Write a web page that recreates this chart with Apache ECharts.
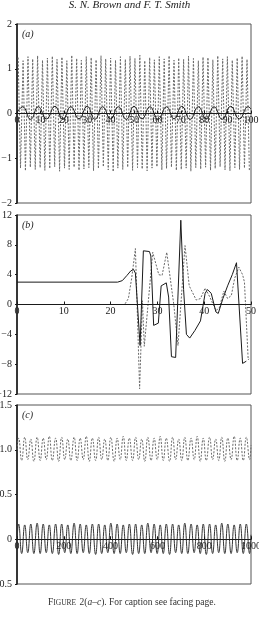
<!DOCTYPE html>
<html>
<head>
<meta charset="utf-8">
<script src="https://cdn.jsdelivr.net/npm/echarts@6/dist/echarts.min.js"></script>
<style>
  html, body { margin: 0; padding: 0; background: #fff; }
  #main { width: 259px; height: 625px; }
</style>
</head>
<body>
<div id="main"></div>
<script>
// ---- panel (a) ----
var aDotX = [0.5,1.5,2.6,3.6,4.7,5.7,6.7,7.8,8.8,9.9,
  10.9,11.9,13.0,14.0,15.1,16.1,17.1,18.2,19.2,20.3,
  21.3,22.3,23.4,24.4,25.5,26.5,27.5,28.6,29.6,30.7,
  31.7,32.7,33.8,34.8,35.9,36.9,37.9,39.0,40.0,41.1,
  42.1,43.1,44.2,45.2,46.3,47.3,48.3,49.4,50.4,51.5,
  52.5,53.5,54.6,55.6,56.7,57.7,58.7,59.8,60.8,61.9,
  62.9,63.9,65.0,66.0,67.1,68.1,69.1,70.2,71.2,72.3,
  73.3,74.3,75.4,76.4,77.5,78.5,79.5,80.6,81.6,82.7,
  83.7,84.7,85.8,86.8,87.9,88.9,89.9,91.0,92.0,93.1,
  94.1,95.1,96.2,97.2,98.3,99.3];
var aDotY = [1.25,-1.22,1.18,-1.28,1.27,-1.20,1.22,-1.25,1.29,-1.21,
  1.19,-1.27,1.24,-1.23,1.28,-1.19,1.21,-1.29,1.26,-1.22,
  1.18,-1.25,1.30,-1.20,1.23,-1.27,1.19,-1.24,1.27,-1.21,
  1.25,-1.28,1.20,-1.23,1.29,-1.19,1.22,-1.26,1.24,-1.30,
  1.19,-1.22,1.27,-1.25,1.21,-1.20,1.28,-1.27,1.23,-1.21,
  1.30,-1.24,1.18,-1.28,1.25,-1.22,1.20,-1.19,1.27,-1.26,
  1.22,-1.23,1.29,-1.20,1.19,-1.27,1.24,-1.25,1.21,-1.22,
  1.28,-1.29,1.23,-1.21,1.18,-1.24,1.26,-1.20,1.25,-1.27,
  1.20,-1.23,1.29,-1.19,1.22,-1.26,1.27,-1.28,1.19,-1.21,
  1.24,-1.25,1.28,-1.22,1.21,-1.27];
var aSolidX = [0,2.4,5.8,9.1,12.6,16.2,19.6,23.0,26.5,30.0,33.3,36.6,40.0,43.3,46.7,50.0,
  53.4,56.8,60.3,63.9,67.1,70.4,74.0,77.5,80.9,84.2,87.7,91.3,95.0,98.8,100];
var aSolidY = [0.02,0.15,-0.13,0.15,-0.12,0.16,-0.13,0.15,-0.12,0.16,-0.13,0.15,-0.12,0.15,-0.13,0.16,
  -0.12,0.15,-0.13,0.15,-0.12,0.16,-0.13,0.15,-0.12,0.15,-0.13,0.16,-0.12,0.15,0.10];

// ---- panel (b) ----
var bSolidX = [0,21.5,22.5,23.5,24.3,24.9,25.3,26.3,27.0,28.3,28.6,29.2,30.2,30.8,31.9,32.4,33.0,33.9,
  35.0,35.6,36.2,36.9,38.0,39.2,40.2,40.7,41.5,42.5,43.0,44.0,45.0,46.0,46.9,48.2,49.0];
var bSolidY = [3.0,3.0,3.2,3.9,4.5,4.7,4.2,-5.5,7.2,7.1,6.5,-2.8,-2.5,2.5,2.9,1.0,-7.0,-7.1,
  11.3,2.0,-4.0,-4.5,-3.5,-2.2,1.5,2.0,1.5,-1.0,-1.2,0.8,2.5,4.0,5.6,-7.9,-7.6];
var bDashX = [0,23.0,23.8,24.5,25.3,26.2,26.8,27.2,29.0,30.3,31.0,32.0,33.5,34.4,35.9,36.8,38.3,39.2,
  40.2,41.2,42.5,43.2,44.2,45.0,45.8,46.5,47.4,48.2,48.6,49.4,49.6];
var bDashY = [0,0,0.8,3.5,7.5,-11.3,0.5,-5.6,7.0,4.0,3.9,7.0,0.0,-5.5,7.9,2.5,0.6,0.8,
  2.2,1.0,-0.8,-0.5,1.8,0.8,1.2,3.5,5.0,4.0,3.0,-7.4,-7.3];

// ---- panel (c) ----
var cX = [0,7,20,33,46,59,72,86,99,112,125,138,151,165,178,191,204,217,230,244,257,270,283,296,309,322,
  336,349,362,375,388,401,415,428,441,454,467,480,494,507,520,533,546,559,573,586,599,612,625,638,
  652,665,678,691,704,717,730,744,757,770,783,796,809,823,836,849,862,875,888,901,915,928,941,954,
  967,980,994,1000];
var cDotY = [1.0,
  1.13,0.88,1.14,0.89,1.12,0.87,1.14,0.88,1.13,0.89,
  1.15,0.88,1.13,0.87,1.14,0.89,1.12,0.88,1.14,0.88,
  1.13,0.89,1.15,0.87,1.13,0.88,1.14,0.89,1.12,0.88,
  1.14,0.87,1.13,0.89,1.15,0.88,1.13,0.88,1.14,0.89,
  1.12,0.87,1.14,0.88,1.13,0.89,1.15,0.88,1.13,0.87,
  1.14,0.89,1.12,0.88,1.14,0.88,1.13,0.89,1.15,0.87,
  1.13,0.88,1.14,0.89,1.12,0.88,1.14,0.87,1.13,0.89,
  1.15,0.88,1.13,0.88,1.14,0.89,
  1.05];
var cSolidY = [0.0,
  0.17,-0.16,0.16,-0.15,0.17,-0.16,0.18,-0.16,0.17,-0.15,
  0.16,-0.16,0.17,-0.17,0.17,-0.15,0.16,-0.16,0.18,-0.16,
  0.17,-0.15,0.16,-0.16,0.17,-0.17,0.17,-0.16,0.16,-0.15,
  0.18,-0.16,0.17,-0.16,0.16,-0.15,0.17,-0.17,0.17,-0.16,
  0.16,-0.16,0.18,-0.15,0.17,-0.16,0.16,-0.16,0.17,-0.17,
  0.17,-0.15,0.16,-0.16,0.18,-0.16,0.17,-0.15,0.16,-0.16,
  0.17,-0.17,0.17,-0.16,0.16,-0.15,0.18,-0.16,0.17,-0.16,
  0.16,-0.15,0.17,-0.16,0.17,-0.16,
  0.05];

function pairs(xs, ys) {
  return xs.map(function (x, i) { return [x, ys[i]]; });
}

var FONT = '"Liberation Serif", "DejaVu Serif", serif';
var dark = '#1a1a1a';
var dotted = '#6a6a6a';

// main x axis: only the line through y = 0, drawn above the curves
function xAx(idx, max, step) {
  return {
    gridIndex: idx, type: 'value', min: 0, max: max, interval: step, z: 5,
    axisLine: { onZero: true, lineStyle: { color: dark, width: 1.2 } },
    axisTick: { show: false }, axisLabel: { show: false }, splitLine: { show: false }
  };
}
// label axis: sits in a helper grid whose bottom edge is the zero line
function xLab(idx, max, step) {
  return {
    gridIndex: idx, type: 'value', min: 0, max: max, interval: step, z: 5,
    axisLine: { show: false },
    axisTick: { show: true, inside: true, length: 3, lineStyle: { color: dark } },
    axisLabel: { color: '#222', fontFamily: FONT, fontSize: 10, margin: 2, showMaxLabel: true,
      formatter: function (v) { return String(v); } },
    splitLine: { show: false }
  };
}
function yAx(idx, min, max, step, fmt) {
  return {
    gridIndex: idx, type: 'value', min: min, max: max, interval: step,
    axisLine: { show: true, onZero: false, lineStyle: { color: dark, width: 1.6 } },
    axisTick: { show: true, length: 2, lineStyle: { color: dark } },
    axisLabel: { color: '#222', fontFamily: FONT, fontSize: 10, margin: 5, formatter: fmt },
    splitLine: { show: false }
  };
}
function yHid(idx) {
  return { gridIndex: idx, type: 'value', min: 0, max: 1, show: false };
}
function minus(v) { return String(v).replace('-', '\u2212'); }

function grid(top, h, box) {
  return { left: 17, right: 8, top: top, height: h, show: box, borderColor: '#555', borderWidth: 1,
    outerBoundsMode: 'none', containLabel: false };
}

var myChart = echarts.init(document.getElementById('main'));
myChart.setOption({
  animation: false,
  backgroundColor: '#fff',
  grid: [
    grid(24, 179, true), grid(215, 179, true), grid(405, 179, true),
    grid(24, 89.5, false), grid(215, 89.5, false), grid(405, 134.25, false)
  ],
  xAxis: [xAx(0, 100, 10), xAx(1, 50, 10), xAx(2, 1000, 200),
          xLab(3, 100, 10), xLab(4, 50, 10), xLab(5, 1000, 200)],
  yAxis: [
    yAx(0, -2, 2, 1, minus),
    yAx(1, -12, 12, 4, minus),
    yAx(2, -0.5, 1.5, 0.5, function (v) { return v === 0 ? '0' : minus(v.toFixed(1)); }),
    yHid(3), yHid(4), yHid(5)
  ],
  graphic: [
    { type: 'text', left: 'center', top: 0, style: { text: 'S. N. Brown and F. T. Smith', font: 'italic 11px ' + FONT, fill: '#222' } },
    { type: 'text', left: 22, top: 29, style: { text: '(a)', font: 'italic 10px ' + FONT, fill: '#222' } },
    { type: 'text', left: 22, top: 220, style: { text: '(b)', font: 'italic 10px ' + FONT, fill: '#222' } },
    { type: 'text', left: 22, top: 410, style: { text: '(c)', font: 'italic 10px ' + FONT, fill: '#222' } },
    {
      type: 'text', left: 48, top: 595,
      style: {
        text: '{a|F}{b|IGURE} {a|2(}{i|a\u2013c}{a|). For caption see facing page.}',
        rich: {
          a: { fontFamily: FONT, fontSize: 9.5, fill: '#333', verticalAlign: 'bottom' },
          b: { fontFamily: FONT, fontSize: 7.5, fill: '#333', verticalAlign: 'bottom' },
          i: { fontFamily: FONT, fontSize: 9.5, fontStyle: 'italic', fill: '#333', verticalAlign: 'bottom' }
        }
      }
    }
  ],
  series: [
    { type: 'line', xAxisIndex: 0, yAxisIndex: 0, data: pairs(aDotX, aDotY), showSymbol: false,
      lineStyle: { color: dotted, width: 1, type: [2, 1.5] } },
    { type: 'line', xAxisIndex: 0, yAxisIndex: 0, data: pairs(aSolidX, aSolidY), showSymbol: false, smooth: true,
      lineStyle: { color: dark, width: 1 } },
    { type: 'line', xAxisIndex: 1, yAxisIndex: 1, data: pairs(bDashX, bDashY), showSymbol: false,
      lineStyle: { color: dotted, width: 1, type: [2, 1.5] } },
    { type: 'line', xAxisIndex: 1, yAxisIndex: 1, data: pairs(bSolidX, bSolidY), showSymbol: false,
      lineStyle: { color: dark, width: 1 } },
    { type: 'line', xAxisIndex: 2, yAxisIndex: 2, data: pairs(cX, cDotY), showSymbol: false, smooth: true,
      lineStyle: { color: dotted, width: 1, type: [2, 1.5] } },
    { type: 'line', xAxisIndex: 2, yAxisIndex: 2, data: pairs(cX, cSolidY), showSymbol: false, smooth: true,
      lineStyle: { color: '#333', width: 1 } }
  ]
});
</script>
</body>
</html>
